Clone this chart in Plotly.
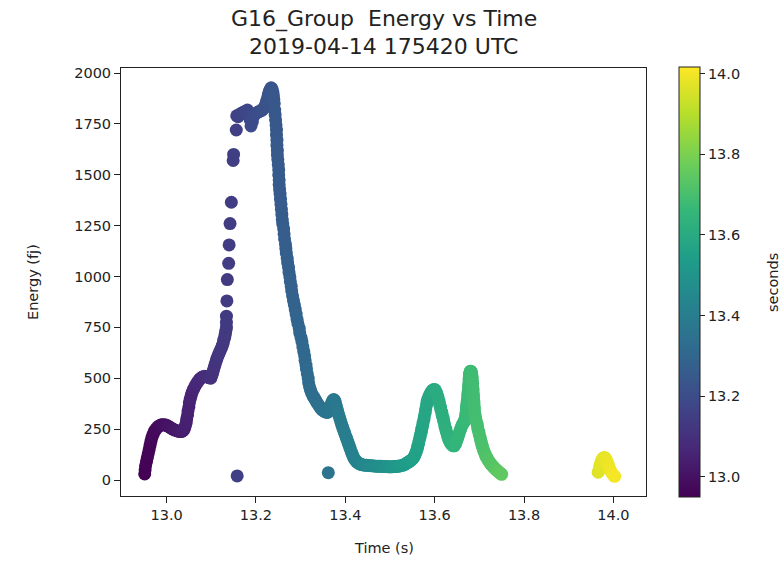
import plotly.graph_objects as go

# ---- GLM group energies, G16, 2019-04-14 17:54:20 UTC ----
# initial slow rise
rise_t = [12.951, 12.952, 12.953, 12.955, 12.957, 12.959, 12.961, 12.963, 12.965, 12.967,
          12.970, 12.973, 12.976, 12.980, 12.983, 12.987, 12.990, 12.994, 12.998, 13.002,
          13.005, 13.009, 13.012, 13.016, 13.019, 13.023, 13.026, 13.030, 13.033, 13.036,
          13.038, 13.040, 13.042, 13.044, 13.045, 13.047, 13.048, 13.050, 13.051, 13.053,
          13.055, 13.057, 13.060, 13.063, 13.066, 13.069, 13.072, 13.075, 13.079, 13.082,
          13.086, 13.089, 13.093, 13.096, 13.099, 13.101, 13.103, 13.105, 13.107, 13.109,
          13.111, 13.113, 13.115, 13.117, 13.119, 13.121, 13.123, 13.125, 13.127, 13.128,
          13.130, 13.131, 13.132, 13.133, 13.134]
rise_e = [30, 50, 70, 90, 110, 130, 150, 170, 190, 208,
          225, 240, 250, 260, 265, 270, 272, 272, 270, 266,
          262, 257, 252, 248, 245, 242, 240, 238, 238, 241,
          245, 254, 265, 282, 300, 320, 340, 360, 380, 398,
          415, 430, 445, 458, 470, 480, 490, 498, 505, 508,
          510, 508, 505, 502, 500, 512, 525, 540, 555, 570,
          585, 598, 610, 620, 630, 640, 650, 662, 675, 688,
          700, 712, 725, 738, 750]

# sparse climb to the plateau, plus one low outlier
climb_t = [13.134, 13.134, 13.135, 13.136, 13.139, 13.140, 13.142, 13.145, 13.149, 13.150,
           13.156, 13.157, 13.158]
climb_e = [775, 805, 880, 985, 1065, 1155, 1260, 1365, 1570, 1600,
           1720, 1790, 20]

# plateau and maximum
top_t = [13.160, 13.163, 13.166, 13.170, 13.173, 13.177, 13.181, 13.184, 13.187, 13.189,
         13.192, 13.196, 13.199, 13.203, 13.207, 13.210, 13.214, 13.218, 13.220, 13.222,
         13.224, 13.226, 13.228, 13.230, 13.232, 13.234, 13.236, 13.238, 13.239, 13.240,
         13.241]
top_e = [1785, 1795, 1800, 1805, 1808, 1812, 1818, 1800, 1770, 1740,
         1760, 1790, 1800, 1806, 1810, 1814, 1818, 1826, 1836, 1848,
         1862, 1878, 1895, 1910, 1920, 1927, 1922, 1908, 1890, 1870,
         1850]

# steep decay
decay_t = [13.242, 13.243, 13.244, 13.245, 13.246, 13.246, 13.247, 13.247, 13.248, 13.248,
           13.249, 13.250, 13.251, 13.251, 13.252, 13.252, 13.253, 13.254, 13.255, 13.256,
           13.257, 13.258, 13.259, 13.260, 13.262, 13.263, 13.264, 13.266, 13.267, 13.268,
           13.270, 13.271, 13.273, 13.274, 13.276, 13.277, 13.279, 13.280, 13.282, 13.284,
           13.286, 13.288, 13.290, 13.292, 13.294, 13.297, 13.298, 13.301, 13.303, 13.305,
           13.307, 13.309, 13.310, 13.312, 13.313, 13.315, 13.317, 13.318, 13.320, 13.322]
decay_e = [1818, 1795, 1770, 1745, 1720, 1695, 1670, 1645, 1620, 1598,
           1575, 1550, 1525, 1500, 1475, 1452, 1428, 1405, 1380, 1355,
           1330, 1305, 1280, 1258, 1235, 1210, 1185, 1160, 1138, 1115,
           1090, 1068, 1045, 1020, 998, 975, 952, 930, 905, 882,
           860, 838, 815, 790, 768, 745, 722, 700, 680, 655,
           632, 610, 588, 565, 545, 522, 500, 478, 458, 442]

# shoulder, second low outlier, and tail down to the floor
tail_t = [13.325, 13.328, 13.330, 13.333, 13.335, 13.338, 13.340, 13.343, 13.345, 13.348,
          13.350, 13.353, 13.355, 13.358, 13.360, 13.362, 13.362, 13.364, 13.366, 13.368,
          13.370, 13.372, 13.374, 13.376, 13.378, 13.380, 13.382, 13.384, 13.386, 13.388,
          13.390, 13.392, 13.394, 13.396, 13.398, 13.400, 13.402, 13.404, 13.406, 13.408,
          13.410, 13.412, 13.414, 13.416, 13.418, 13.420, 13.423, 13.425, 13.428, 13.430,
          13.433, 13.436]
tail_e = [425, 412, 405, 395, 385, 376, 368, 360, 352, 346,
          342, 338, 335, 333, 332, 36, 336, 345, 358, 370,
          382, 392, 395, 392, 380, 362, 346, 330, 315, 300,
          286, 272, 259, 246, 234, 222, 210, 198, 185, 172,
          160, 148, 136, 125, 114, 105, 96, 90, 85, 82,
          79, 76]

# quiet floor
floor_t = [13.440, 13.444, 13.448, 13.452, 13.456, 13.460, 13.464, 13.468, 13.472, 13.476,
           13.480, 13.484, 13.488, 13.492, 13.496, 13.500, 13.504, 13.508, 13.512, 13.516,
           13.520, 13.524, 13.528, 13.532, 13.535, 13.538, 13.541]
floor_e = [74, 73, 72, 71, 70, 70, 69, 68, 68, 67,
           67, 66, 66, 66, 65, 65, 65, 66, 66, 67,
           68, 70, 72, 75, 79, 84, 88]

# first late pulse and valley
pulse1_t = [13.544, 13.547, 13.550, 13.553, 13.555, 13.557, 13.559, 13.561, 13.562, 13.564,
            13.565, 13.567, 13.568, 13.570, 13.571, 13.573, 13.574, 13.576, 13.577, 13.579,
            13.580, 13.582, 13.583, 13.585, 13.587, 13.589, 13.591, 13.593, 13.595, 13.597,
            13.599, 13.601, 13.603, 13.605, 13.607, 13.608, 13.610, 13.611, 13.613, 13.614,
            13.616, 13.617, 13.619, 13.620, 13.622, 13.623, 13.625, 13.626, 13.628, 13.629,
            13.631, 13.632, 13.634, 13.636, 13.638, 13.640, 13.642, 13.644, 13.646, 13.648,
            13.650, 13.652, 13.654, 13.656, 13.658, 13.660, 13.662, 13.664, 13.666, 13.667]
pulse1_e = [92, 96, 102, 110, 118, 128, 140, 152, 165, 178,
            192, 206, 220, 235, 250, 265, 280, 298, 315, 332,
            350, 368, 385, 398, 410, 420, 428, 435, 440, 443,
            445, 443, 435, 425, 410, 400, 386, 372, 358, 345,
            332, 318, 304, 290, 276, 262, 250, 238, 226, 215,
            205, 196, 188, 180, 175, 170, 168, 168, 175, 185,
            197, 210, 224, 238, 250, 262, 272, 280, 286, 290]

# second late pulse and decay
pulse2_t = [13.668, 13.669, 13.670, 13.671, 13.671, 13.672, 13.673, 13.674, 13.674, 13.675,
            13.676, 13.676, 13.677, 13.677, 13.678, 13.678, 13.679, 13.680, 13.681, 13.682,
            13.683, 13.684, 13.684, 13.685, 13.685, 13.686, 13.686, 13.687, 13.687, 13.688,
            13.688, 13.689, 13.689, 13.690, 13.691, 13.692, 13.693, 13.695, 13.696, 13.697,
            13.699, 13.700, 13.702, 13.703, 13.705, 13.706, 13.708, 13.709, 13.711, 13.713,
            13.714, 13.716, 13.718, 13.720, 13.722, 13.724, 13.726, 13.728, 13.730, 13.732,
            13.734, 13.736, 13.738, 13.740, 13.742, 13.744, 13.746, 13.748, 13.750]
pulse2_e = [302, 315, 330, 345, 360, 375, 390, 405, 420, 435,
            450, 465, 480, 495, 508, 520, 528, 535, 535, 530,
            518, 505, 490, 475, 460, 445, 430, 415, 400, 385,
            370, 355, 340, 325, 312, 300, 288, 275, 262, 248,
            235, 222, 208, 195, 182, 170, 158, 148, 138, 128,
            120, 112, 104, 97, 90, 84, 78, 73, 68, 63,
            58, 54, 50, 46, 42, 38, 35, 31, 28]

# isolated burst near 14 s
burst_t = [13.966, 13.968, 13.969, 13.971, 13.973, 13.975, 13.977, 13.980, 13.982, 13.984,
           13.986, 13.988, 13.990, 13.992, 13.995, 13.998, 14.001, 14.003]
burst_e = [38, 48, 62, 78, 92, 102, 108, 110, 108, 100,
           90, 78, 65, 52, 40, 30, 22, 18]

time_ticks = [13.0, 13.2, 13.4, 13.6, 13.8, 14.0]
energy_ticks = [0, 250, 500, 750, 1000, 1250, 1500, 1750, 2000]
cbar_ticks = [13.0, 13.2, 13.4, 13.6, 13.8, 14.0]

title_lines = ["G16_Group\u00a0 Energy vs Time", "2019-04-14 175420 UTC"]

time_s = rise_t + climb_t + top_t + decay_t + tail_t + floor_t + pulse1_t + pulse2_t + burst_t
energy_fj = rise_e + climb_e + top_e + decay_e + tail_e + floor_e + pulse1_e + pulse2_e + burst_e

FONT = "DejaVu Sans"
INK = "#222222"
TICK_SIZE = 14.5

fig = go.Figure(
    go.Scatter(
        x=time_s,
        y=energy_fj,
        mode="markers",
        showlegend=False,
        marker=dict(
            size=13,
            color=time_s,
            colorscale="Viridis",
            cmin=12.95,
            cmax=14.016,
            line=dict(width=0),
            colorbar=dict(
                thickness=21,
                len=430,
                lenmode="pixels",
                x=1.0629,
                xanchor="left",
                xpad=0,
                y=0.5,
                yanchor="middle",
                ypad=0,
                outlinewidth=1,
                outlinecolor=INK,
                ticks="outside",
                ticklen=5,
                tickwidth=1,
                tickcolor=INK,
                tickvals=cbar_ticks,
                ticktext=[f"{v:.1f}" for v in cbar_ticks],
                tickfont=dict(family=FONT, size=TICK_SIZE, color=INK),
            ),
        ),
    )
)

axis_common = dict(
    showline=True,
    linecolor=INK,
    linewidth=1,
    mirror=True,
    ticks="outside",
    ticklen=6,
    tickwidth=1,
    tickcolor=INK,
    showgrid=False,
    zeroline=False,
    automargin=False,
    tickfont=dict(family=FONT, size=TICK_SIZE, color=INK),
)

def label(text, x, y, size, angle=0):
    return dict(text=text, x=x, y=y, xref="paper", yref="paper",
                xanchor="center", yanchor="middle", textangle=angle,
                showarrow=False, font=dict(family=FONT, size=size, color=INK))

annotations = [
    # two-line title, centred over the plotting area
    label(title_lines[0], 0.5, 1.1145, 22),
    label(title_lines[1], 0.5, 1.0514, 22),
    # axis titles
    label("Time (s)", 0.5, -0.1215, 14.5),
    label("Energy (fj)", -0.1676, 0.5, 14.5, -90),
    # colour bar label
    label("seconds", 1.2419, 0.5, 14.5, -90),
]

fig.update_layout(
    width=784,
    height=561,
    margin=dict(l=121, r=138, t=68, b=65, autoexpand=False),
    paper_bgcolor="white",
    plot_bgcolor="white",
    font=dict(family=FONT, color=INK),
    annotations=annotations,
    xaxis=dict(
        range=[12.898, 14.073],
        tickvals=time_ticks,
        ticktext=[f"{v:.1f}" for v in time_ticks],
        **axis_common,
    ),
    yaxis=dict(
        range=[-78.6, 2024.6],
        tickvals=energy_ticks,
        ticktext=[str(v) for v in energy_ticks],
        **axis_common,
    ),
)

fig.write_html("out.html")
